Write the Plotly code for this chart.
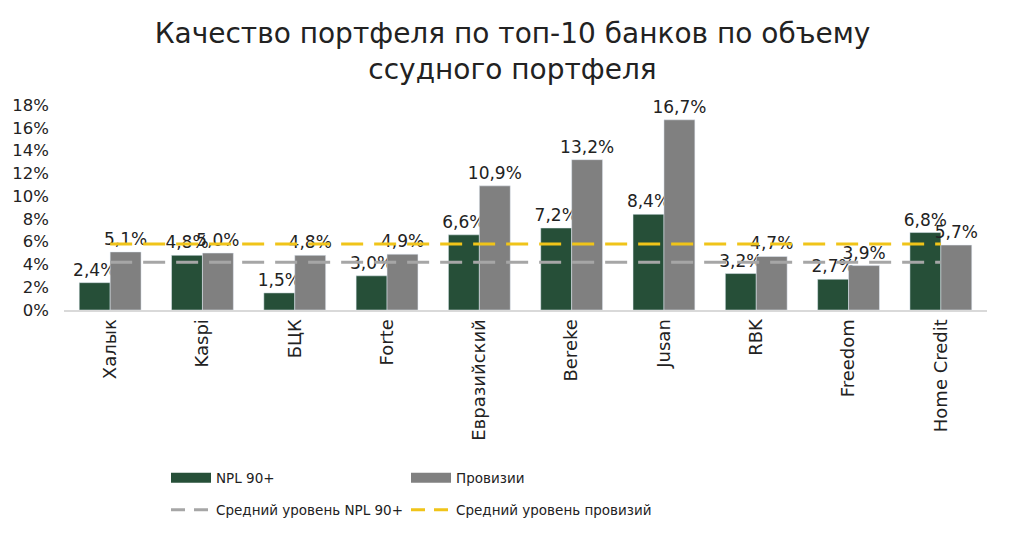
import plotly.graph_objects as go

banks = ["Халык", "Kaspi", "БЦК", "Forte", "Евразийский", "Bereke", "Jusan", "RBK", "Freedom", "Home Credit"]
npl = [2.4, 4.8, 1.5, 3.0, 6.6, 7.2, 8.4, 3.2, 2.7, 6.8]
prov = [5.1, 5.0, 4.8, 4.9, 10.9, 13.2, 16.7, 4.7, 3.9, 5.7]
avg_npl = 4.2
avg_prov = 5.8
y_ticks = [0, 2, 4, 6, 8, 10, 12, 14, 16, 18]
y_tick_labels = [f"{v}%" for v in y_ticks]

GREEN = "#264f38"
GREY = "#808080"
LGREY = "#a6a6a6"
YELLOW = "#f0c419"
FONT = "DejaVu Sans"

fig = go.Figure()
fig.add_trace(go.Bar(x=banks, y=npl, marker_color=GREEN, name="NPL 90+",
                     text=[f"{v:.1f}%".replace(".", ",") for v in npl], textposition="outside",
                     constraintext="none", cliponaxis=False, showlegend=False,
                     textfont=dict(size=17, color="#222")))
fig.add_trace(go.Bar(x=banks, y=prov, marker_color=GREY, name="Провизии",
                     text=[f"{v:.1f}%".replace(".", ",") for v in prov], textposition="outside",
                     constraintext="none", cliponaxis=False, showlegend=False,
                     textfont=dict(size=17, color="#222")))
fig.add_trace(go.Scatter(x=banks, y=[avg_npl] * len(banks), mode="lines",
                         line=dict(color=LGREY, width=3, dash="22px,11px"), showlegend=False))
fig.add_trace(go.Scatter(x=banks, y=[avg_prov] * len(banks), mode="lines",
                         line=dict(color=YELLOW, width=3, dash="22px,11px"), showlegend=False))

# legend entries (one legend per entry for exact placement)
fig.add_trace(go.Scatter(x=[None], y=[None], mode="lines", name="NPL 90+",
                         line=dict(color=GREEN, width=11), legend="legend"))
fig.add_trace(go.Scatter(x=[None], y=[None], mode="lines", name="Провизии",
                         line=dict(color=GREY, width=11), legend="legend2"))
fig.add_trace(go.Scatter(x=[None], y=[None], mode="lines", name="Средний уровень NPL 90+",
                         line=dict(color=LGREY, width=3, dash="14px,9px"), legend="legend3"))
fig.add_trace(go.Scatter(x=[None], y=[None], mode="lines", name="Средний уровень провизий",
                         line=dict(color=YELLOW, width=3, dash="14px,9px"), legend="legend4"))

leg_common = dict(orientation="h", xref="container", yref="container", xanchor="left",
                  yanchor="middle",
                  font=dict(family=FONT, size=13.5, color="#222"), bgcolor="rgba(0,0,0,0)",
                  itemwidth=40)
col1 = 158 / 1009
col2 = 398 / 1009
row1 = 1 - 470 / 536
row2 = 1 - 502 / 536

fig.update_layout(
    width=1009, height=536,
    paper_bgcolor="white", plot_bgcolor="white",
    margin=dict(l=56, r=30, t=97, b=234, autoexpand=False),
    font=dict(family=FONT, size=17, color="#222"),
    title=dict(text="Качество портфеля по топ-10 банков по объему<br>ссудного портфеля",
               x=0.5, xanchor="center", y=0.935, yanchor="top",
               font=dict(family=FONT, size=28, color="#222")),
    barmode="group", bargap=0.33, bargroupgap=0,
    legend=dict(x=col1, y=row1, **leg_common),
    legend2=dict(x=col2, y=row1, **leg_common),
    legend3=dict(x=col1, y=row2, **leg_common),
    legend4=dict(x=col2, y=row2, **leg_common),
    xaxis=dict(tickangle=-90, showline=True, linecolor="#d9d9d9", linewidth=2,
               ticks="", showgrid=False, tickfont=dict(size=18), automargin=False),
    yaxis=dict(range=[0, 18], tickvals=y_ticks, ticktext=y_tick_labels, showgrid=False,
               zeroline=False, showline=False, tickfont=dict(size=16.5), automargin=False,
               ticklabelstandoff=14),
)

fig.write_html("out.html")
